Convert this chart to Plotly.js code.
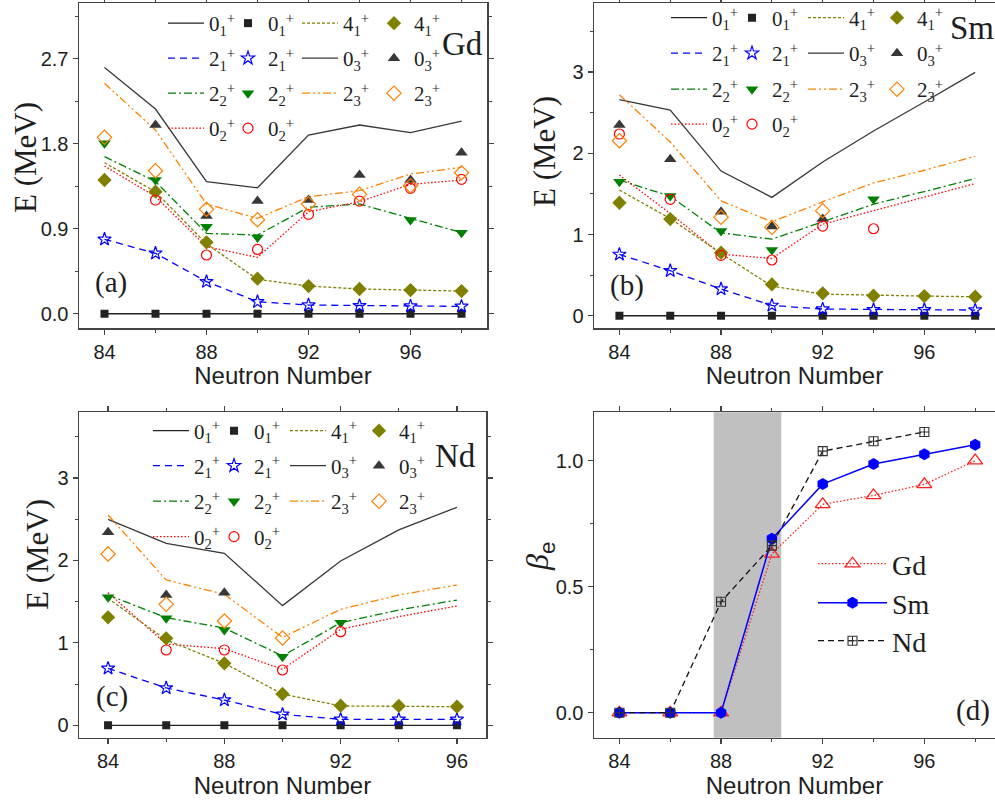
<!DOCTYPE html>
<html>
<head>
<meta charset="utf-8">
<script src="https://cdn.plot.ly/plotly-3.0.1.min.js"></script>
<style>
  html, body { margin: 0; padding: 0; background: #fff; }
  #chart { width: 995px; height: 801px; }
</style>
</head>
<body>
<div id="chart"></div>
<script>
// Neutron numbers for each isotope chain
const nGd = [84, 86, 88, 90, 92, 94, 96, 98];
const nSm = [84, 86, 88, 90, 92, 94, 96, 98];
const nNd = [84, 86, 88, 90, 92, 94, 96];

// Gd: calculated levels (lines) and experimental levels (symbols), MeV
const gdCalc01 = [0, 0, 0, 0, 0, 0, 0, 0];
const gdCalc21 = [0.788, 0.640, 0.340, 0.127, 0.092, 0.085, 0.081, 0.078];
const gdCalc22 = [1.663, 1.400, 0.851, 0.833, 1.127, 1.162, 1.010, 0.860];
const gdCalc02 = [1.564, 1.240, 0.710, 0.597, 1.080, 1.186, 1.370, 1.415];
const gdCalc41 = [1.599, 1.290, 0.740, 0.364, 0.293, 0.262, 0.251, 0.240];
const gdCalc03 = [2.608, 2.167, 1.398, 1.334, 1.892, 1.998, 1.917, 2.040];
const gdCalc23 = [2.440, 1.945, 1.161, 1.010, 1.239, 1.303, 1.479, 1.550];
const gdExp01 = [0, 0, 0, 0, 0, 0, 0, 0];
const gdExp21 = [0.788, 0.640, 0.339, 0.127, 0.092, 0.085, 0.081, 0.078];
const gdExp22 = [1.804, 1.416, 0.921, 0.808, null, null, 0.992, 0.858];
const gdExp02 = [null, 1.204, 0.622, 0.681, 1.052, 1.193, 1.328, 1.423];
const gdExp41 = [1.416, 1.292, 0.756, 0.371, 0.293, 0.262, 0.251, 0.240];
const gdExp03 = [null, 1.998, 1.035, 1.193, 1.204, 1.469, 1.416, 1.705];
const gdExp23 = [1.868, 1.514, 1.105, 0.995, 1.162, 1.264, 1.355, 1.493];

// Sm
const smCalc01 = [0, 0, 0, 0, 0, 0, 0, 0];
const smCalc21 = [0.755, 0.554, 0.329, 0.127, 0.082, 0.074, 0.074, 0.070];
const smCalc22 = [1.670, 1.471, 1.020, 0.943, 1.157, 1.373, 1.529, 1.689];
const smCalc02 = [1.732, 1.258, 0.758, 0.705, 1.127, 1.291, 1.463, 1.627];
const smCalc41 = [1.547, 1.197, 0.766, 0.365, 0.266, 0.250, 0.242, 0.234];
const smCalc03 = [2.660, 2.532, 1.781, 1.457, 1.893, 2.275, 2.631, 2.996];
const smCalc23 = [2.721, 2.139, 1.414, 1.156, 1.402, 1.635, 1.791, 1.963];
const smExp01 = [0, 0, 0, 0, 0, 0, 0, 0];
const smExp21 = [0.755, 0.554, 0.329, 0.127, 0.082, 0.074, 0.074, 0.070];
const smExp22 = [1.650, 1.473, 1.043, 0.809, null, 1.433, null, null];
const smExp02 = [2.237, 1.433, 0.743, 0.686, 1.104, 1.071, null, null];
const smExp41 = [1.391, 1.190, 0.776, 0.386, 0.276, 0.246, 0.242, 0.234];
const smExp03 = [2.348, 1.925, 1.281, 1.100, 1.190, null, null, null];
const smExp23 = [2.154, null, 1.211, 1.088, 1.293, null, null, null];

// Nd
const ndCalc01 = [0, 0, 0, 0, 0, 0, 0];
const ndCalc21 = [0.691, 0.453, 0.307, 0.133, 0.073, 0.073, 0.073];
const ndCalc22 = [1.581, 1.306, 1.180, 0.841, 1.245, 1.399, 1.520];
const ndCalc02 = [1.609, 0.986, 0.930, 0.679, 1.165, 1.318, 1.448];
const ndCalc41 = [1.540, 1.035, 0.752, 0.380, 0.235, 0.230, 0.226];
const ndCalc03 = [2.499, 2.208, 2.087, 1.452, 1.994, 2.370, 2.645];
const ndCalc23 = [2.551, 1.763, 1.589, 1.067, 1.407, 1.581, 1.702];
const ndExp01 = [0, 0, 0, 0, 0, 0, 0];
const ndExp21 = [0.691, 0.453, 0.307, 0.133, 0.073, 0.073, 0.073];
const ndExp22 = [1.553, 1.298, 1.156, 0.833, 1.245, null, null];
const ndExp02 = [null, 0.914, 0.914, 0.671, 1.136, null, null];
const ndExp41 = [1.310, 1.055, 0.752, 0.380, 0.239, 0.235, 0.226];
const ndExp03 = [2.341, 1.581, 1.609, null, null, null, null];
const ndExp23 = [2.078, 1.468, 1.265, 1.059, null, null, null];

// Deformation parameter beta_e
const gdBeta = [0, 0, 0, 0.630, 0.827, 0.862, 0.906, 1.000];
const smBeta = [0, 0, 0, 0.690, 0.907, 0.987, 1.026, 1.063];
const ndBeta = [0, 0, 0.440, 0.663, 1.038, 1.077, 1.114];

// Shaded transition region in panel (d), neutron number
const transitionBand = [87.71, 90.37];

const W = 995, H = 801;
const px = v => v / W;
const py = v => 1 - v / H;

const SERIF = '"Liberation Serif", "Times New Roman", serif';
const SANS = '"Liberation Sans", Arial, sans-serif';
const INK = '#1e1e1e';

const lvl = (j, k) => `${j}<sub>${k}</sub><sup>+</sup>`;

// Style per level: line look for the calculation, symbol look for experiment
const STYLE = {
  '01': { name: lvl(0, 1), color: '#222222', dash: 'solid', symbol: 'square', size: 8 },
  '21': { name: lvl(2, 1), color: '#0000ff', dash: '7px,5px', symbol: 'star-open', size: 10 },
  '22': { name: lvl(2, 2), color: '#008000', dash: '8px,3px,2px,3px', symbol: 'triangle-down', size: 11 },
  '02': { name: lvl(0, 2), color: '#ff0000', dash: '1.5px,2px', symbol: 'circle-open', size: 10 },
  '41': { name: lvl(4, 1), color: '#808000', dash: '3px,2px', symbol: 'diamond', size: 11 },
  '03': { name: lvl(0, 3), color: '#383838', dash: 'solid', symbol: 'triangle-up', size: 11 },
  '23': { name: lvl(2, 3), color: '#ff8000', dash: '8px,3px,2px,3px,2px,3px', symbol: 'diamond-open', size: 11 }
};

const lineOrder = ['01', '21', '22', '02', '41', '03', '23'];
const markOrder = ['01', '21', '41', '03', '22', '02', '23'];
const leftKeys = ['01', '21', '22', '02'];
const rightKeys = ['41', '03', '23'];

// One small legend per entry so that every key sits on its own grid cell
const legendDefs = {};
let legendCount = 0;
function makeLegend(xPix, yPix, size, itemwidth) {
  legendCount += 1;
  const id = legendCount === 1 ? 'legend' : 'legend' + legendCount;
  legendDefs[id] = {
    x: px(xPix), y: py(yPix), xanchor: 'left', yanchor: 'middle',
    orientation: 'v', bgcolor: 'rgba(0,0,0,0)', borderwidth: 0,
    font: { family: SERIF, size, color: INK },
    itemwidth, itemclick: false, itemdoubleclick: false
  };
  return id;
}

function panelTraces(ax, xs, calc, exp, cols, rows) {
  const out = [];
  const cell = (k, isLine) => {
    const left = leftKeys.includes(k);
    const row = left ? leftKeys.indexOf(k) : rightKeys.indexOf(k);
    const c = (left ? 0 : 2) + (isLine ? 0 : 1);
    return makeLegend(cols[c], rows[row], 21, isLine ? 36 : 30);
  };
  lineOrder.forEach(k => {
    const s = STYLE[k];
    out.push({
      type: 'scatter', mode: 'lines', x: xs, y: calc[k],
      xaxis: 'x' + ax, yaxis: 'y' + ax,
      name: s.name, legend: cell(k, true),
      line: { color: s.color, width: 1.3, dash: s.dash },
      hoverinfo: 'skip'
    });
  });
  markOrder.forEach(k => {
    const s = STYLE[k];
    out.push({
      type: 'scatter', mode: 'markers', x: xs, y: exp[k],
      xaxis: 'x' + ax, yaxis: 'y' + ax,
      name: s.name, legend: cell(k, false),
      marker: { symbol: s.symbol, size: s.size, color: s.color, line: { color: s.color, width: s.symbol.endsWith('open') ? 1.2 : 0 } },
      hoverinfo: 'skip'
    });
  });
  return out;
}

const traces = [].concat(
  panelTraces('', nGd,
    { '01': gdCalc01, '21': gdCalc21, '22': gdCalc22, '02': gdCalc02, '41': gdCalc41, '03': gdCalc03, '23': gdCalc23 },
    { '01': gdExp01, '21': gdExp21, '22': gdExp22, '02': gdExp02, '41': gdExp41, '03': gdExp03, '23': gdExp23 },
    [163, 228, 297, 374], [23.5, 58.5, 93.5, 128.5]),
  panelTraces('2', nSm,
    { '01': smCalc01, '21': smCalc21, '22': smCalc22, '02': smCalc02, '41': smCalc41, '03': smCalc03, '23': smCalc23 },
    { '01': smExp01, '21': smExp21, '22': smExp22, '02': smExp02, '41': smExp41, '03': smExp03, '23': smExp23 },
    [666, 732, 803, 877], [18, 53.5, 89.5, 124.5]),
  panelTraces('3', nNd,
    { '01': ndCalc01, '21': ndCalc21, '22': ndCalc22, '02': ndCalc02, '41': ndCalc41, '03': ndCalc03, '23': ndCalc23 },
    { '01': ndExp01, '21': ndExp21, '22': ndExp22, '02': ndExp02, '41': ndExp41, '03': ndExp03, '23': ndExp23 },
    [148, 214, 285, 359], [431, 466, 501.5, 537])
);

traces.push(
  {
    type: 'scatter', mode: 'lines+markers', x: nGd, y: gdBeta, xaxis: 'x4', yaxis: 'y4',
    name: 'Gd', legend: makeLegend(813, 564, 28, 69),
    line: { color: '#ff2020', width: 1.3, dash: '1.5px,2px' },
    marker: { symbol: 'triangle-up-open', size: 13, color: '#ff2020', line: { color: '#ff2020', width: 1.3 } },
    hoverinfo: 'skip'
  },
  {
    type: 'scatter', mode: 'lines+markers', x: nSm, y: smBeta, xaxis: 'x4', yaxis: 'y4',
    name: 'Sm', legend: makeLegend(813, 603, 28, 69),
    line: { color: '#0000ff', width: 1.5 },
    marker: { symbol: 'hexagon', size: 12, color: '#0000ff', line: { width: 0 } },
    hoverinfo: 'skip'
  },
  {
    type: 'scatter', mode: 'lines+markers', x: nNd, y: ndBeta, xaxis: 'x4', yaxis: 'y4',
    name: 'Nd', legend: makeLegend(813, 641, 28, 69),
    line: { color: '#111111', width: 1.3, dash: '6px,4px' },
    marker: { symbol: 'square-cross-open', size: 9, color: '#333333', line: { color: '#333333', width: 1.1 } },
    hoverinfo: 'skip'
  }
);

const tickFont = { family: SANS, size: 20, color: INK };

function xAxis(domain, range, anchor) {
  return {
    domain, range, anchor,
    tick0: 84, dtick: 4,
    ticks: 'outside', ticklen: 5, tickwidth: 1.2, tickcolor: '#444',
    minor: { dtick: 2, ticks: 'outside', ticklen: 3, tickcolor: '#444' },
    showline: true, linecolor: '#444', linewidth: 1.5, mirror: 'ticks',
    showgrid: false, zeroline: false,
    tickfont: tickFont,
    title: { text: 'Neutron Number', font: { family: SANS, size: 24, color: INK }, standoff: 0 }
  };
}

function yAxis(domain, range, anchor, dtick, fmt) {
  return {
    domain, range, anchor,
    tick0: 0, dtick, tickformat: fmt,
    ticks: 'outside', ticklen: 5, tickwidth: 1.2, tickcolor: '#444',
    minor: { dtick: dtick / 2, ticks: 'outside', ticklen: 3, tickcolor: '#444' },
    showline: true, linecolor: '#444', linewidth: 1.5, mirror: 'ticks',
    showgrid: false, zeroline: false,
    tickfont: tickFont
  };
}

const topRow = [py(328), py(3)];
const botRow = [py(737.7), py(412.3)];

const labels = [
  { text: 'Gd', x: 462, y: 44, size: 33 },
  { text: 'Sm', x: 972, y: 28, size: 33 },
  { text: 'Nd', x: 455, y: 456, size: 33 },
  { text: '(a)', x: 111, y: 282, size: 29 },
  { text: '(b)', x: 627, y: 285, size: 29 },
  { text: '(c)', x: 112, y: 696, size: 29 },
  { text: '(d)', x: 973, y: 710, size: 29 },
  { text: 'E (MeV)', x: 25, y: 158, size: 31, angle: -90 },
  { text: 'E (MeV)', x: 544, y: 152, size: 31, angle: -90 },
  { text: 'E (MeV)', x: 37, y: 555, size: 31, angle: -90 },
  { text: '<i>β</i><sub><span style="font-family:Liberation Sans">e</span></sub>', x: 539, y: 557, size: 32, angle: -90 }
];

const layout = Object.assign({
  width: W, height: H,
  margin: { l: 0, r: 0, t: 0, b: 0, autoexpand: false },
  paper_bgcolor: '#ffffff', plot_bgcolor: '#ffffff',
  showlegend: true,
  xaxis: xAxis([px(79), px(487)], [83, 99], 'y'),
  yaxis: yAxis(topRow, [-0.151, 3.29], 'x', 0.9, '.1f'),
  xaxis2: xAxis([px(594), 1], [83, 98.78], 'y2'),
  yaxis2: yAxis(topRow, [-0.151, 3.85], 'x2', 1, 'd'),
  xaxis3: xAxis([px(79), px(486)], [83, 97], 'y3'),
  yaxis3: yAxis(botRow, [-0.150, 3.797], 'x3', 1, 'd'),
  xaxis4: xAxis([px(594), 1], [83, 98.78], 'y4'),
  yaxis4: yAxis(botRow, [-0.0992, 1.192], 'x4', 0.5, '.1f'),

  shapes: [{
    type: 'rect', xref: 'x4', yref: 'y4 domain',
    x0: transitionBand[0], x1: transitionBand[1], y0: 0, y1: 1,
    fillcolor: '#c0c0c0', line: { width: 0 }, layer: 'below'
  }],

  annotations: labels.map(a => ({
    text: a.text, x: px(a.x), y: py(a.y), xref: 'paper', yref: 'paper',
    xanchor: 'center', yanchor: 'middle', showarrow: false, textangle: a.angle || 0,
    font: { family: SERIF, size: a.size, color: INK }
  }))
}, legendDefs);

Plotly.newPlot('chart', traces, layout, { displayModeBar: false, staticPlot: true });
</script>
</body>
</html>
